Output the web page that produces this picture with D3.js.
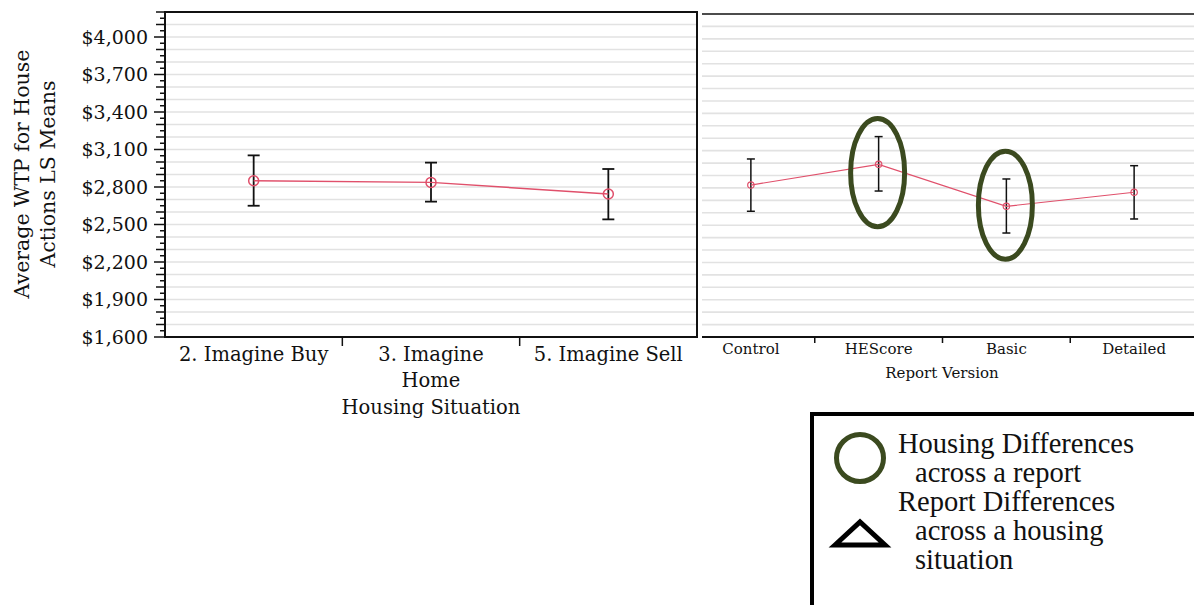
<!DOCTYPE html>
<html>
<head>
<meta charset="utf-8">
<script src="https://cdn.jsdelivr.net/npm/d3@7"></script>
<style>
  body { margin: 0; background: #fff; }
  svg { display: block; }
  text { fill: #111; }
</style>
</head>
<body>
<svg id="chart" width="1194" height="605"></svg>
<script>
// housing situation panel
const housing = ["2. Imagine Buy", "3. Imagine\nHome", "5. Imagine Sell"];
const housingMean = [2850, 2837, 2744];
const housingLow = [2650, 2683, 2541];
const housingHigh = [3053, 2995, 2944];

// report version panel
const reports = ["Control", "HEScore", "Basic", "Detailed"];
const reportMean = [2823, 2990, 2652, 2765];
const reportLow = [2612, 2775, 2437, 2550];
const reportHigh = [3033, 3213, 2872, 2979];

// highlighted reports (ellipse centre and half-height in $)
const circled = ["HEScore", "Basic"];
const circledMid = [2923, 2661];
const circledHalf = [451, 451];

const yTicks = [1600, 1900, 2200, 2500, 2800, 3100, 3400, 3700, 4000];

const svg = d3.select("#chart");
const bottom = 337;
const red = "#e0506b";
const olive = "#3b4a1f";
const serif = "'DejaVu Serif', serif";

let yL = d3.scaleLinear().domain([1600, 4200]).range([bottom, 12]);
let yR = d3.scaleLinear().domain([1600, 4200]).range([bottom, 14]);
let xL = d3.scaleBand().domain(housing).range([165, 697]);
let xR = d3.scaleBand().domain(reports).range([687, 1198]);

const grid = d3.range(1700, 4201, 100);

// left panel gridlines
svg.append("g").selectAll("line").data(grid).join("line")
    .attr("x1", 166).attr("x2", 696)
    .attr("y1", d => yL(d)).attr("y2", d => yL(d))
    .attr("stroke", "#e2e2e2").attr("stroke-width", 1.6);

// right panel gridlines
svg.append("g").selectAll("line").data(grid.filter(d => d < 4200)).join("line")
    .attr("x1", 702).attr("x2", 1194)
    .attr("y1", d => yR(d)).attr("y2", d => yR(d))
    .attr("stroke", "#e2e2e2").attr("stroke-width", 1.6);

// frames
svg.append("rect")
    .attr("x", 165).attr("y", 12).attr("width", 532).attr("height", bottom - 12)
    .attr("fill", "none").attr("stroke", "#111").attr("stroke-width", 2);
svg.append("line").attr("x1", 702).attr("x2", 1194).attr("y1", 14).attr("y2", 14)
    .attr("stroke", "#111").attr("stroke-width", 1.5);
svg.append("line").attr("x1", 702).attr("x2", 1194).attr("y1", bottom).attr("y2", bottom)
    .attr("stroke", "#111").attr("stroke-width", 2);

// y axis ticks (every $50, longer at $100 and labelled values)
let minor = d3.range(1600, 4201, 50);
svg.append("g").selectAll("line").data(minor).join("line")
    .attr("x1", d => 165 - (yTicks.includes(d) ? 11 : (d % 100 === 0 ? 9 : 5)))
    .attr("x2", 165)
    .attr("y1", d => yL(d)).attr("y2", d => yL(d))
    .attr("stroke", "#111").attr("stroke-width", 1.5);

svg.append("g").selectAll("text").data(yTicks).join("text")
    .attr("x", 148).attr("y", d => yL(d))
    .attr("dy", "0.36em")
    .attr("text-anchor", "end")
    .style("font-family", serif).style("font-size", "19px")
    .text(d => d3.format("$,")(d));

// y title
svg.append("text")
    .attr("transform", "translate(29,174) rotate(-90)")
    .attr("text-anchor", "middle")
    .style("font-family", serif).style("font-size", "20.5px")
    .text("Average WTP for House");
svg.append("text")
    .attr("transform", "translate(55,174) rotate(-90)")
    .attr("text-anchor", "middle")
    .style("font-family", serif).style("font-size", "20.5px")
    .text("Actions LS Means");

// left x axis separators and labels
svg.append("g").selectAll("line").data(housing.slice(1)).join("line")
    .attr("x1", d => xL(d)).attr("x2", d => xL(d))
    .attr("y1", bottom).attr("y2", bottom + 9)
    .attr("stroke", "#111").attr("stroke-width", 1.5);

housing.forEach(h => {
    let t = svg.append("text")
        .attr("x", xL(h) + xL.bandwidth() / 2).attr("y", 361)
        .attr("text-anchor", "middle")
        .style("font-family", serif).style("font-size", "19.5px");
    h.split("\n").forEach((part, i) => {
        t.append("tspan").attr("x", xL(h) + xL.bandwidth() / 2)
            .attr("dy", i === 0 ? 0 : 26).text(part);
    });
});
svg.append("text")
    .attr("x", 431).attr("y", 414)
    .attr("text-anchor", "middle")
    .style("font-family", serif).style("font-size", "19.5px")
    .text("Housing Situation");

// right x axis separators and labels
svg.append("g").selectAll("line").data(reports.slice(1)).join("line")
    .attr("x1", d => xR(d)).attr("x2", d => xR(d))
    .attr("y1", bottom).attr("y2", bottom + 6)
    .attr("stroke", "#111").attr("stroke-width", 1.5);
svg.append("g").selectAll("text").data(reports).join("text")
    .attr("x", d => xR(d) + xR.bandwidth() / 2).attr("y", 354)
    .attr("text-anchor", "middle")
    .style("font-family", serif).style("font-size", "15px")
    .text(d => d);
svg.append("text")
    .attr("x", 942).attr("y", 378)
    .attr("text-anchor", "middle")
    .style("font-family", serif).style("font-size", "15px")
    .text("Report Version");

// series drawing
function drawSeries(cats, mean, low, high, x, y, opt) {
    let cx = d => x(d) + x.bandwidth() / 2;
    let g = svg.append("g");
    g.selectAll("line.err").data(cats).join("line")
        .attr("x1", d => cx(d)).attr("x2", d => cx(d))
        .attr("y1", (d, i) => y(low[i])).attr("y2", (d, i) => y(high[i]))
        .attr("stroke", "#111").attr("stroke-width", opt.w);
    [low, high].forEach(arr => {
        g.selectAll(null).data(cats).join("line")
            .attr("x1", d => cx(d) - opt.cap).attr("x2", d => cx(d) + opt.cap)
            .attr("y1", (d, i) => y(arr[i])).attr("y2", (d, i) => y(arr[i]))
            .attr("stroke", "#111").attr("stroke-width", opt.w);
    });
    let line = d3.line().x(d => cx(d[0])).y(d => y(d[1]));
    g.append("path")
        .datum(cats.map((c, i) => [c, mean[i]]))
        .attr("d", line)
        .attr("fill", "none").attr("stroke", red).attr("stroke-width", opt.lw);
    g.selectAll("circle").data(cats).join("circle")
        .attr("cx", d => cx(d)).attr("cy", (d, i) => y(mean[i]))
        .attr("r", opt.r)
        .attr("fill", "none").attr("stroke", red).attr("stroke-width", opt.lw);
}

drawSeries(housing, housingMean, housingLow, housingHigh, xL, yL, {w: 1.8, cap: 6, lw: 1.5, r: 5});
drawSeries(reports, reportMean, reportLow, reportHigh, xR, yR, {w: 1.5, cap: 4, lw: 1.2, r: 3.2});

// highlight ellipses
svg.append("g").selectAll("ellipse").data(circled).join("ellipse")
    .attr("cx", d => xR(d) + xR.bandwidth() / 2 - 1)
    .attr("cy", (d, i) => yR(circledMid[i]))
    .attr("rx", 27)
    .attr("ry", (d, i) => yR(circledMid[i] - circledHalf[i]) - yR(circledMid[i]) - 2)
    .attr("fill", "none").attr("stroke", olive).attr("stroke-width", 5);

// legend
const legend = svg.append("g");
legend.append("rect")
    .attr("x", 812).attr("y", 414).attr("width", 400).attr("height", 220)
    .attr("fill", "#fff").attr("stroke", "#000").attr("stroke-width", 4);
legend.append("circle")
    .attr("cx", 860).attr("cy", 458).attr("r", 23.5)
    .attr("fill", "none").attr("stroke", olive).attr("stroke-width", 5);
legend.append("path")
    .attr("d", "M835,545L860,522L885,545Z")
    .attr("fill", "none").attr("stroke", "#000").attr("stroke-width", 5)
    .attr("stroke-linejoin", "miter");

const legendLines = [
    ["Housing Differences", 898, 453],
    ["across a report", 915, 482],
    ["Report Differences", 898, 511],
    ["across a housing", 915, 540],
    ["situation", 915, 569]
];
legend.selectAll("text").data(legendLines).join("text")
    .attr("x", d => d[1]).attr("y", d => d[2])
    .style("font-family", "'Liberation Serif', 'Times New Roman', serif")
    .style("font-size", "28.5px")
    .text(d => d[0]);
</script>
</body>
</html>
